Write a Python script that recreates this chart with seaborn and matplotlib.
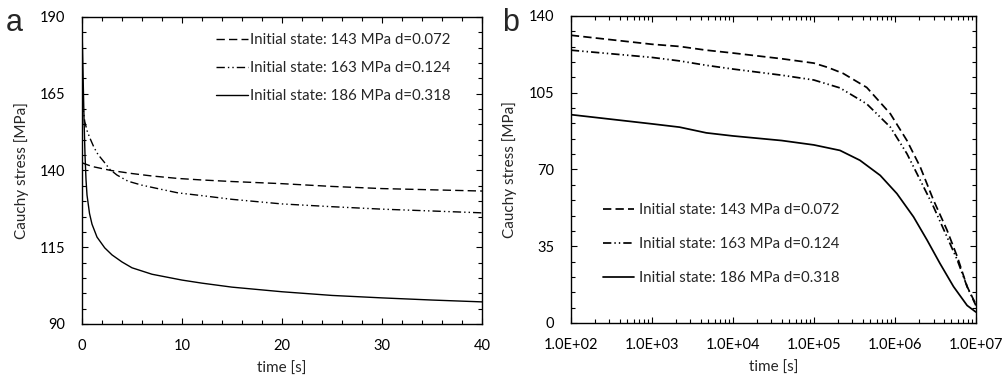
import numpy as np
import pandas as pd
import matplotlib
matplotlib.use("Agg")
import matplotlib.pyplot as plt
import matplotlib.ticker as mticker
import seaborn as sns

# ---------------- data ----------------
labels = ["Initial state: 143 MPa d=0.072",
          "Initial state: 163 MPa d=0.124",
          "Initial state: 186 MPa d=0.318"]

# panel a (linear time, s)
t_a_143 = [0, 1, 2.9, 5, 7, 9.6, 12, 15, 20, 25, 30, 35, 40]
s_a_143 = [142.5, 141.3, 140.0, 139.0, 138.2, 137.4, 136.9, 136.4, 135.7, 134.8, 134.1, 133.7, 133.3]

t_a_163 = [0, 0.27, 0.5, 0.77, 1.2, 1.6, 2.2, 2.8, 3.5, 4.6, 6, 8, 9.6, 12, 15, 20, 25, 30, 35, 40]
s_a_163 = [163.2, 156.0, 153.0, 150.7, 147.5, 145.2, 142.8, 140.3, 138.5, 136.5, 135.2, 133.8,
           132.7, 131.8, 130.6, 129.1, 128.2, 127.4, 126.8, 126.2]

t_a_186 = [0, 0.1, 0.2, 0.3, 0.4, 0.5, 0.75, 1.0, 1.5, 2.27, 3, 4, 5, 7, 10, 12, 15, 20, 25, 30, 35, 40]
s_a_186 = [186.5, 172.0, 157.0, 145.0, 137.0, 132.0, 126.0, 122.5, 118.3, 114.8, 112.5, 110.2, 108.3,
           106.2, 104.3, 103.3, 102.0, 100.5, 99.3, 98.5, 97.8, 97.2]

# panel b (log time, s)
t_b_143 = [1e2, 1e3, 2.2e3, 4.7e3, 1e4, 4e4, 1e5, 1.5e5, 2.3e5, 4.5e5, 8.8e5, 1.41e6, 2.06e6,
           3e6, 4.4e6, 5.9e6, 7.8e6, 1e7]
s_b_143 = [131.2, 127.1, 126.1, 124.4, 123.1, 120.5, 118.5, 116.5, 113.8, 107.4, 95.4, 83.2, 71.1,
           56.0, 42.4, 30.2, 16.6, 8.5]

t_b_163 = [1e2, 1e3, 2.2e3, 4.7e3, 1e4, 4e4, 1e5, 2.1e5, 4.5e5, 8.8e5, 1.41e6, 2.06e6,
           3e6, 4.4e6, 5.9e6, 7.8e6, 1e7]
s_b_163 = [124.4, 121.1, 119.5, 117.5, 115.8, 113.0, 110.8, 107.2, 99.9, 89.3, 77.2, 65.1,
           53.0, 39.3, 28.7, 16.6, 8.0]

t_b_186 = [1e2, 1e3, 2.2e3, 4.7e3, 1e4, 4e4, 1e5, 2.1e5, 3.7e5, 6.6e5, 1.06e6, 1.7e6, 2.5e6,
           3.6e6, 5.3e6, 7.8e6, 1e7]
s_b_186 = [95.0, 90.8, 89.3, 86.7, 85.3, 83.2, 81.2, 78.7, 74.2, 67.3, 59.0, 48.4, 37.8,
           27.2, 16.6, 8.0, 5.0]

# ---------------- style ----------------
sns.set_theme(style="ticks")
plt.rcParams["font.family"] = ["Lato", "DejaVu Sans"]
plt.rcParams["xtick.direction"] = "in"
plt.rcParams["ytick.direction"] = "in"

FS_TICK = 10.5
FS_LEG = 10.8
FS_LAB = 11

df_a = pd.concat([
    pd.DataFrame({"t": t_a_143, "s": s_a_143, "series": labels[0]}),
    pd.DataFrame({"t": t_a_163, "s": s_a_163, "series": labels[1]}),
    pd.DataFrame({"t": t_a_186, "s": s_a_186, "series": labels[2]}),
], ignore_index=True)
df_b = pd.concat([
    pd.DataFrame({"t": t_b_143, "s": s_b_143, "series": labels[0]}),
    pd.DataFrame({"t": t_b_163, "s": s_b_163, "series": labels[1]}),
    pd.DataFrame({"t": t_b_186, "s": s_b_186, "series": labels[2]}),
], ignore_index=True)

palette = {l: "black" for l in labels}

fig = plt.figure(figsize=(10.05, 3.8), dpi=100)
ax_a = fig.add_axes([0.0816, 0.1474, 0.398, 0.808])
ax_b = fig.add_axes([0.568, 0.150, 0.403, 0.808])

for ax, df, lw in [(ax_a, df_a, 1.0), (ax_b, df_b, 1.25)]:
    dashes = {labels[0]: (6 / lw, 3 / lw),
              labels[1]: (6 / lw, 2.2 / lw, 1 / lw, 2.2 / lw, 1 / lw, 2.2 / lw),
              labels[2]: ""}
    sns.lineplot(data=df, x="t", y="s", hue="series", style="series", palette=palette,
                 dashes=dashes, lw=lw, ax=ax, sort=False, estimator=None)
    for sp in ax.spines.values():
        sp.set_visible(True)
        sp.set_color("black")
        sp.set_linewidth(1.0)
    ax.tick_params(which="both", direction="in", top=True, right=True, colors="black",
                   labelsize=FS_TICK, width=0.8)
    ax.tick_params(which="major", length=4.5)
    ax.tick_params(which="minor", length=3)
    ax.tick_params(axis="x", which="both", pad=11)
    ax.tick_params(axis="y", which="both", pad=12)
    ax.set_ylabel("Cauchy stress [MPa]", fontsize=FS_LAB, labelpad=8)
    ax.set_xlabel("time [s]", fontsize=FS_LAB, labelpad=6)

# panel a axes
ax_a.set_xlim(0, 40)
ax_a.set_ylim(90, 190)
ax_a.set_xticks([0, 10, 20, 30, 40])
ax_a.set_yticks([90, 115, 140, 165, 190])
ax_a.xaxis.set_minor_locator(mticker.MultipleLocator(2))
ax_a.yaxis.set_minor_locator(mticker.MultipleLocator(5))
ax_a.legend(frameon=False, loc="upper left", bbox_to_anchor=(0.32, 0.967), borderaxespad=0,
            fontsize=FS_LEG, handlelength=2.1, handletextpad=0.15, labelspacing=0.93)

# panel b axes
ax_b.set_xscale("log")
ax_b.set_xlim(1e2, 1e7)
ax_b.set_ylim(0, 140)
ax_b.set_yticks([0, 35, 70, 105, 140])
ax_b.yaxis.set_minor_locator(mticker.MultipleLocator(7))
ax_b.set_xticks([1e2, 1e3, 1e4, 1e5, 1e6, 1e7])
ax_b.xaxis.set_minor_locator(mticker.LogLocator(base=10, subs=np.arange(2, 10)))
ax_b.xaxis.set_minor_formatter(mticker.NullFormatter())
ax_b.xaxis.set_major_formatter(mticker.FuncFormatter(lambda v, p: "{:.1E}".format(v)))
ax_b.legend(frameon=False, loc="upper left", bbox_to_anchor=(0.064, 0.41), borderaxespad=0,
            fontsize=FS_LEG, handlelength=2.1, handletextpad=0.3, labelspacing=1.33)

fig.text(0.006, 0.94, "a", fontsize=22, family="Liberation Sans", va="center", ha="left")
fig.text(0.500, 0.94, "b", fontsize=22, family="Liberation Sans", va="center", ha="left")

fig.savefig("out.png", dpi=100)
